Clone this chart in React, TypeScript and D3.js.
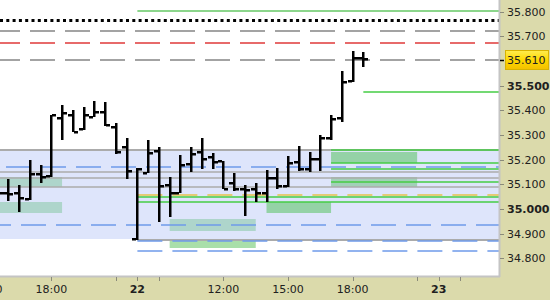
import React from "react";
import * as d3 from "d3";

// ---------- DATA ----------
// 30-minute OHLC bars (index 0 = partially visible first bar)
const barOpen = [35.077, 35.065, 35.065, 35.041, 35.142, 35.134, 35.369, 35.381, 35.324, 35.373, 35.393, 35.333, 35.251, 34.878, 35.146, 35.235, 35.097, 35.065, 35.182, 35.231, 35.211, 35.195, 35.105, 35.081, 35.081, 35.065, 35.126, 35.093, 35.191, 35.162, 35.203, 35.288, 35.369, 35.519, 35.612];
const barHigh = [35.097, 35.122, 35.097, 35.199, 35.178, 35.381, 35.422, 35.401, 35.414, 35.438, 35.434, 35.349, 35.288, 35.166, 35.280, 35.251, 35.130, 35.219, 35.251, 35.288, 35.227, 35.195, 35.146, 35.097, 35.105, 35.158, 35.166, 35.215, 35.255, 35.231, 35.300, 35.381, 35.560, 35.641, 35.637];
const barLow = [35.036, 35.032, 34.988, 35.037, 35.105, 35.130, 35.280, 35.312, 35.320, 35.373, 35.337, 35.223, 35.122, 34.874, 35.146, 34.947, 34.968, 35.065, 35.150, 35.162, 35.162, 35.081, 35.073, 34.972, 35.028, 35.028, 35.081, 35.089, 35.154, 35.150, 35.154, 35.280, 35.353, 35.515, 35.576];
const barClose = [35.065, 35.061, 35.045, 35.142, 35.130, 35.381, 35.389, 35.312, 35.381, 35.393, 35.341, 35.231, 35.154, 35.162, 35.227, 35.093, 35.065, 35.178, 35.223, 35.203, 35.191, 35.081, 35.081, 35.077, 35.065, 35.126, 35.093, 35.187, 35.162, 35.203, 35.288, 35.365, 35.515, 35.612, 35.610];

// right price axis
const yTickValues = [35.8, 35.7, 35.5, 35.4, 35.3, 35.2, 35.1, 35.0, 34.9, 34.8];
const yTickLabels = ["35.800", "35.700", "35.500", "35.400", "35.300", "35.200", "35.100", "35.000", "34.900", "34.800"];
const yTickBold = [false, false, true, false, false, false, false, true, false, false];
const lastPriceLabel = "35.610";
const lastPriceLevel = 35.604;

// time axis (positions in bar slots)
const xTickIdx = [-1, 5, 13, 21, 27, 33, 41];
const xTickLabels = ["15:00", "18:00", "22", "12:00", "15:00", "18:00", "23"];
const xTickBold = [false, false, true, false, false, false, true];
const xMinorIdx = [11, 15, 39, 43];

// blue range zone
const rangeTop = 35.241;
const rangeBottom = 34.8783;

// zones: start slot, end slot, low, high, kind
const zoneStart = [-3, -3, 16, 16, 31, 31, 25];
const zoneEnd = [6, 6, 24, 24, 39, 39, 31];
const zoneLow = [35.088, 34.9849, 34.9107, 34.8405, 35.1852, 35.088, 34.9849];
const zoneHigh = [35.1285, 35.0283, 34.9594, 34.8762, 35.2323, 35.1297, 35.0271];
const zoneKind = ["teal", "teal", "teal", "light", "green", "sage", "green"];

// horizontal levels
const grayLevels = [35.2392, 35.148, 35.1244, 35.0879];
const grayLevelFrom = [-3, -3, -3, -3];
const grayLevel2 = [34.8745];
const grayLevel2From = [13];
const greenLevels = [35.803, 35.4744, 35.2392, 35.1865, 35.164, 35.1082, 35.0506, 35.0271];
const greenLevelFrom = [13, 34, 31, 31, 31, 31, 13, 13];
const blueDashLevels = [35.169, 34.9338, 34.8705, 34.8296];
const blueDashFrom = [-3, -3, 13, 13];
const yellowDashLevels = [35.0555];
const yellowDashFrom = [13];
const grayDashLevels = [35.7205, 35.604];
const redDashLevels = [35.673];
const dottedLevels = [35.766];

// ---------- LAYOUT ----------
const W = 550;
const H = 300;
const PR = 499; // plot right
const PB = 276; // plot bottom
const FONT = "DejaVu Sans, Verdana, sans-serif";

const zoneColor: Record<string, string> = {
  teal: "#AED5CB",
  light: "#A9DFA9",
  green: "#94D2A6",
  sage: "#A2D0B8",
};

export default function App() {
  const x = d3.scaleLinear().domain([0, 46]).range([-2.5, -2.5 + 46 * 10.76]);
  const y = d3.scaleLinear().domain([34.8, 35.8]).range([258.3, 11.7]);
  const xl = (i: number) => Math.max(-5, x(i));
  const ry = (v: number) => Math.round(y(v));

  const hLine = (v: number, from: number, color: string, w: number, dash?: string, key?: string, offset?: number) => (
    <line
      key={key}
      x1={xl(from)}
      x2={PR}
      y1={ry(v) + (w % 2 === 1 ? 0.5 : 0)}
      y2={ry(v) + (w % 2 === 1 ? 0.5 : 0)}
      stroke={color}
      strokeWidth={w}
      strokeDasharray={dash}
      strokeDashoffset={offset}
    />
  );

  const blueOffsets = [24, 9, 0, 0];

  return (
    <svg
      width={W}
      height={H}
      style={{ position: "absolute", left: 0, top: 0, display: "block" }}
      fontFamily={FONT}
    >
      <defs>
        <clipPath id="plot">
          <rect x={0} y={0} width={PR} height={PB} />
        </clipPath>
        <linearGradient id="lastGrad" x1="0" y1="0" x2="0" y2="1">
          <stop offset="0" stopColor="#FFEC50" />
          <stop offset="0.5" stopColor="#FFD800" />
          <stop offset="1" stopColor="#F3C000" />
        </linearGradient>
      </defs>
      {/* backgrounds */}
      <rect x={0} y={0} width={W} height={H} fill="#DBDAAB" />
      <rect x={0} y={0} width={PR} height={PB} fill="#FFFFFF" />

      <g clipPath="url(#plot)">
        {/* range zone */}
        <rect
          x={0}
          y={ry(rangeTop)}
          width={PR}
          height={ry(rangeBottom) - ry(rangeTop)}
          fill="#DEE5FB"
        />
        {/* zones */}
        {zoneStart.map((s, k) => (
          <rect
            key={"z" + k}
            x={xl(s)}
            y={ry(zoneHigh[k])}
            width={x(zoneEnd[k]) - xl(s)}
            height={ry(zoneLow[k]) - ry(zoneHigh[k])}
            fill={zoneColor[zoneKind[k]]}
          />
        ))}
        {/* levels */}
        {grayLevels.map((v, k) => hLine(v, grayLevelFrom[k], "#ABABAB", k === 0 ? 2 : 1.5, undefined, "g" + k))}
        {grayLevel2.map((v, k) => hLine(v, grayLevel2From[k], "#ABABAB", 2, undefined, "g2" + k))}
        {blueDashLevels.map((v, k) =>
          hLine(v, blueDashFrom[k], "#6F9BEA", 1.5, "25 10", "b" + k, blueOffsets[k])
        )}
        {yellowDashLevels.map((v, k) => hLine(v, yellowDashFrom[k], "#E6C24A", 1.5, "25 10", "yd" + k))}
        {greenLevels.map((v, k) => hLine(v, greenLevelFrom[k], k === 0 ? "#66C866" : "#44CC44", 1.5, undefined, "gr" + k))}
        {grayDashLevels.map((v, k) => hLine(v, -3, "#858585", 1.5, "25 10", "gd" + k, 0))}
        {redDashLevels.map((v, k) => hLine(v, -3, "#E03A3A", 1.5, "25 10", "rd" + k, 0))}
        {dottedLevels.map((v, k) => hLine(v, -3, "#000000", 3, "3 3.3", "dt" + k, -5))}

        {/* OHLC bars */}
        {barOpen.map((o, i) => {
          const cx = Math.round(x(i));
          const yh = ry(barHigh[i]);
          const yl = ry(barLow[i]);
          const yo = ry(o);
          const yc = ry(barClose[i]);
          return (
            <g key={"bar" + i} fill="#000">
              <rect x={cx - 1} y={yh} width={2.5} height={Math.max(2, yl - yh)} />
              <rect x={cx - 5} y={yo - 1} width={4} height={2.5} />
              <rect x={cx + 1} y={yc - 1} width={4} height={2.5} />
            </g>
          );
        })}
      </g>

      {/* frame */}
      <line x1={PR + 0.5} x2={PR + 0.5} y1={0} y2={PB + 1} stroke="#C4C4C4" strokeWidth={2} />
      <line x1={0} x2={PR + 1} y1={PB + 0.5} y2={PB + 0.5} stroke="#C4C4C4" strokeWidth={2} />

      {/* right axis */}
      {yTickValues.map((v, k) => (
        <g key={"yt" + k}>
          <line x1={PR + 1} x2={PR + 5} y1={ry(v) + 0.5} y2={ry(v) + 0.5} stroke="#8A8A7A" strokeWidth={1} />
          <text
            x={507}
            y={ry(v)}
            dy="0.36em"
            fontSize={11}
            fontWeight={yTickBold[k] ? "bold" : "normal"}
            fill="#202020"
          >
            {yTickLabels[k]}
          </text>
        </g>
      ))}
      {/* last price */}
      <g>
        <line x1={PR + 1} x2={PR + 5} y1={ry(lastPriceLevel) + 0.5} y2={ry(lastPriceLevel) + 0.5} stroke="#000" strokeWidth={1.5} />
        <rect
          x={505.5}
          y={ry(lastPriceLevel) - 9.5}
          width={43}
          height={19}
          fill="url(#lastGrad)"
          stroke="#D8B200"
          strokeWidth={1}
        />
        <text x={507} y={ry(lastPriceLevel)} dy="0.36em" fontSize={11} fill="#202020">
          {lastPriceLabel}
        </text>
      </g>

      {/* bottom axis */}
      {xTickIdx.map((t, k) => (
        <g key={"xt" + k}>
          <line x1={Math.round(x(t)) + 0.5} x2={Math.round(x(t)) + 0.5} y1={PB + 1} y2={PB + 5} stroke="#8A8A7A" strokeWidth={1} />
          <text
            x={x(t)}
            y={289}
            dy="0.36em"
            textAnchor="middle"
            fontSize={11}
            fontWeight={xTickBold[k] ? "bold" : "normal"}
            fill="#202020"
          >
            {xTickLabels[k]}
          </text>
        </g>
      ))}
      {xMinorIdx.map((t, k) => (
        <line key={"xm" + k} x1={Math.round(x(t)) + 0.5} x2={Math.round(x(t)) + 0.5} y1={PB + 1} y2={PB + 5} stroke="#8A8A7A" strokeWidth={1} />
      ))}
    </svg>
  );
}
